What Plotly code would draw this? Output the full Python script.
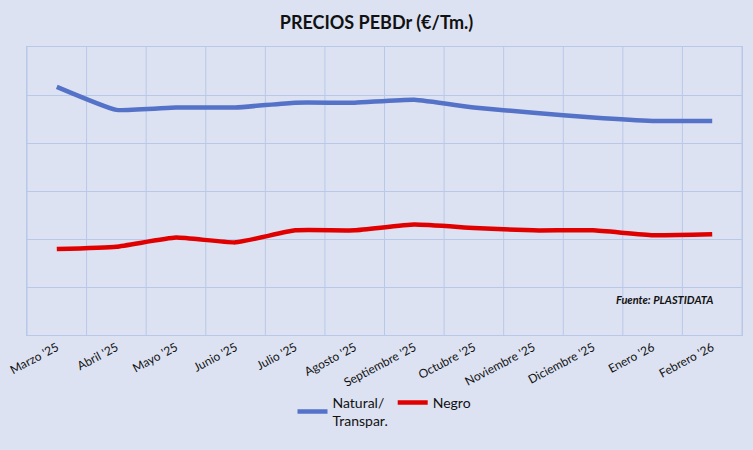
import plotly.graph_objects as go

meses = ["Marzo '25", "Abril '25", "Mayo '25", "Junio '25", "Julio '25", "Agosto '25",
         "Septiembre '25", "Octubre '25", "Noviembre '25", "Diciembre '25", "Enero '26", "Febrero '26"]

# precios en €/Tm (eje sin etiquetas)
natural = [1551, 1407, 1422, 1422, 1452, 1452, 1470, 1422, 1389, 1359, 1338, 1338]
negro = [537, 552, 609, 579, 654, 654, 690, 669, 654, 654, 624, 630]

bg = "#DCE2F2"
grid = "#B8C8E8"

fig = go.Figure()
fig.add_trace(go.Scatter(x=meses, y=natural, mode="lines", name="Natural/<br>Transpar.",
                         line=dict(color="#5472C8", width=4.5, shape="spline", smoothing=0.4)))
fig.add_trace(go.Scatter(x=meses, y=negro, mode="lines", name="Negro",
                         line=dict(color="#E00000", width=4.5, shape="spline", smoothing=0.4)))

fig.add_annotation(text="<b><i>Fuente: PLASTIDATA</i></b>", xref="paper", yref="paper",
                   x=0.962, y=0.125, xanchor="right", yanchor="middle", showarrow=False,
                   font=dict(size=11, color="#111111"))

fig.update_layout(
    width=753, height=450,
    paper_bgcolor=bg, plot_bgcolor=bg,
    margin=dict(l=27, r=11, t=47, b=115),
    font=dict(family="Lato", color="#222222"),
    title=dict(text="<b>PRECIOS PEBDr (€/Tm.)</b>", x=0.5, xanchor="center", y=0.95, yanchor="middle",
               font=dict(size=18, color="#111111")),
    legend=dict(orientation="h", x=0.5, xanchor="center", y=-0.18, yanchor="top",
                font=dict(size=14, color="#111111"), itemwidth=30, bgcolor="rgba(0,0,0,0)"),
    showlegend=True,
)
fig.update_xaxes(tickangle=-28, tickfont=dict(size=12, color="#111111"), showgrid=False,
                 ticks="", showline=True, linecolor=grid, mirror=True, automargin=False)
# lineas verticales entre categorias
for i in range(len(meses) + 1):
    fig.add_vline(x=i - 0.5, line=dict(color=grid, width=1), layer="below")
fig.update_xaxes(range=[-0.5, len(meses) - 0.5])
fig.update_yaxes(range=[0, 1800], dtick=300, showticklabels=False, gridcolor=grid, gridwidth=1,
                 zeroline=False, showline=True, linecolor=grid, mirror=True, automargin=False)

fig.write_html("out.html", config={"displayModeBar": False},
               post_script="document.body.style.margin='0px';")
